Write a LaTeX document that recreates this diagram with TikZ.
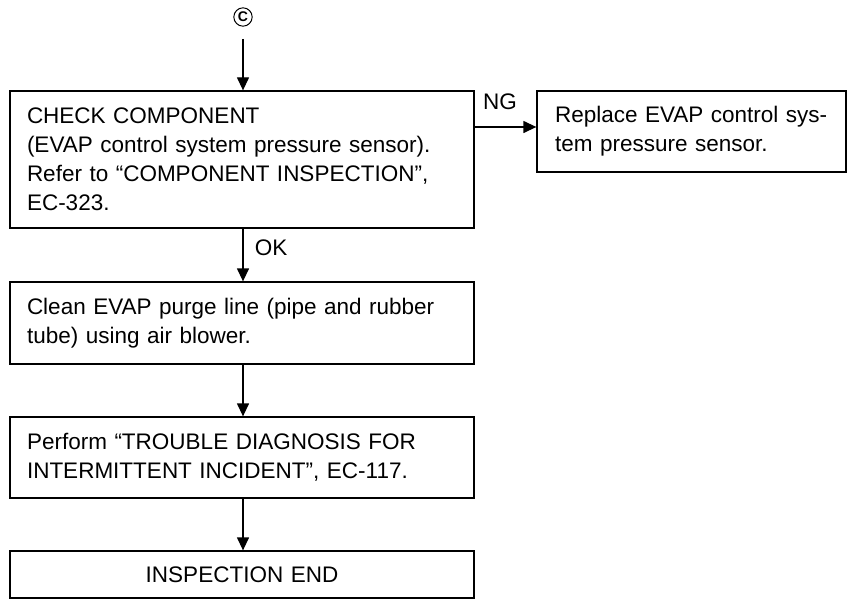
\documentclass[tikz,border=0pt]{standalone}
\usepackage{fontspec}
\setmainfont{Liberation Sans}
\usetikzlibrary{arrows.meta}
\begin{document}
\begin{tikzpicture}[x=1pt,y=-1pt,
  box/.style={draw, line width=1.3pt, inner xsep=17pt, inner ysep=0pt, align=left,
    font=\fontsize{22.5}{29}\selectfont, minimum width=#1, text width=#1-34pt},
  lbl/.style={font=\fontsize{22.5}{29}\selectfont, inner sep=0pt},
  arr/.style={line width=1.3pt, -{Triangle[length=13pt,width=12pt]}}]
\useasboundingbox (0,0) rectangle (850,599);
\node[draw, circle, line width=1pt, inner sep=1.5pt, minimum size=18pt,
  font=\fontsize{14}{14}\selectfont\bfseries] (c) at (243,17) {C};
\node[box=464pt, minimum height=137pt] (b1) at (242,159.5)
  {CHECK COMPONENT\\(EVAP control system pressure sensor).\\Refer to “COMPONENT INSPECTION”,\\EC-323.};
\node[box=309pt, minimum height=81pt, inner xsep=18pt, text width=273pt] (b2) at (691.5,131.5)
  {Replace EVAP control sys-\\tem pressure sensor.};
\node[box=464pt, minimum height=82pt] (b3) at (242,323)
  {Clean EVAP purge line (pipe and rubber\\tube) using air blower.};
\node[box=464pt, minimum height=81pt] (b4) at (242,457.5)
  {Perform “TROUBLE DIAGNOSIS FOR\\INTERMITTENT INCIDENT”, EC-117.};
\node[box=464pt, minimum height=47pt, align=center] (b5) at (242,574.5)
  {INSPECTION END};
\coordinate (ngy) at (0,127);
\coordinate (cs) at (243,39);
\draw[arr] (cs) -- (cs |- b1.north);
\draw[arr] (b1.east |- ngy) -- (b2.west |- ngy);
\node[lbl] (ng) at (500,102) {NG};
\draw[arr] (b1.south -| cs) -- (b3.north -| cs);
\node[lbl] (ok) at (271,248) {OK};
\draw[arr] (b3.south -| cs) -- (b4.north -| cs);
\draw[arr] (b4.south -| cs) -- (b5.north -| cs);
\end{tikzpicture}
\end{document}
